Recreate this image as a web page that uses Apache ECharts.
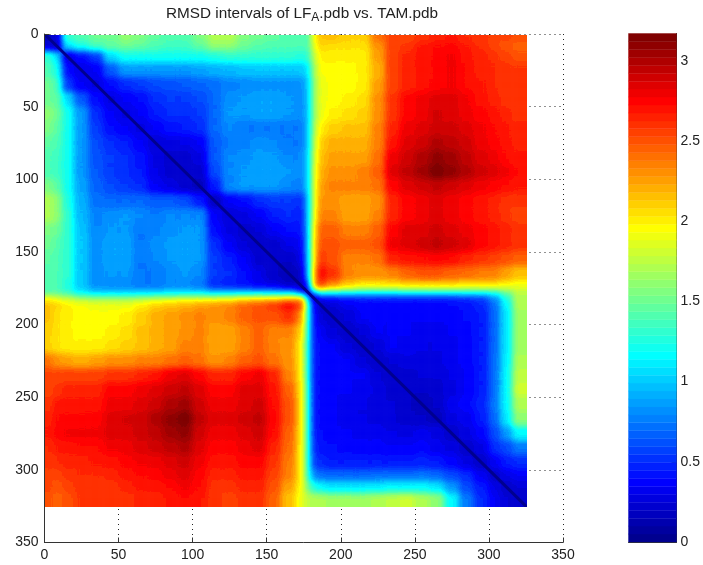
<!DOCTYPE html>
<html><head><meta charset="utf-8">
<style>html,body{margin:0;padding:0;background:#fff}#c{width:703px;height:565px}
#c canvas[data-zr-dom-id="zr_1"]{filter:url(#jetSmooth);clip-path:inset(35px 176.3px 58.3px 45px)}
#c canvas[data-zr-dom-id="zr_2"]{filter:blur(.7px);clip-path:inset(35px 176.3px 58.3px 45px)}
#c canvas[data-zr-dom-id="zr_3"]{filter:blur(.6px)}
</style>
<script src="https://cdn.jsdelivr.net/npm/echarts@6/dist/echarts.min.js"></script></head>
<body><div id="c"></div>
<svg width="0" height="0" style="position:absolute"><filter id="jetSmooth" color-interpolation-filters="sRGB" x="0" y="0" width="100%" height="100%">
<feGaussianBlur stdDeviation="3"/><feComponentTransfer><feFuncR id="fr" type="discrete"/><feFuncG id="fg" type="discrete"/><feFuncB id="fb" type="discrete"/></feComponentTransfer></filter></svg>
<script>
const titleText = 'RMSD intervals of LF{sub|A}{t|.pdb vs. TAM.pdb}';
const axisTicks = [0, 50, 100, 150, 200, 250, 300, 350];
const colorTicks = [0, 0.5, 1, 1.5, 2, 2.5, 3];
const valueMax = 3.17;
const residueEdges = [0.5,6,12,20,30,40,50,60,70,80,90,100,110,120,130,140,150,160,170,176,180,184,190,200,210,220,230,240,250,260,270,280,290,300,308,316,325.5];
const diagonalEnds = [[0.5,0.5],[325.5,325.5]];
// lower triangle of the symmetric RMSD matrix, one row per residue bin
const rmsdRows = [
[.18],
[.25,.18],
[1.3,1.05,.25],
[1.4,1.2,.4,.3],
[1.5,1.35,.55,.35,.28],
[1.5,1.45,1.05,.65,.4,.28],
[1.6,1.5,1.2,.85,.5,.35,.28],
[1.55,1.45,1.2,.85,.55,.4,.35,.28],
[1.45,1.4,1.2,.85,.6,.5,.45,.35,.25],
[1.4,1.35,1.2,.85,.62,.55,.5,.42,.28,.22],
[1.4,1.35,1.2,.85,.65,.55,.5,.45,.3,.22,.2],
[1.55,1.45,1.2,.88,.68,.6,.55,.5,.35,.28,.22,.18],
[1.7,1.6,1.25,.92,.72,.7,.7,.7,.65,.65,.6,.45,.2],
[1.7,1.6,1.3,.95,.78,.82,.85,.8,.75,.8,.8,.8,.35,.25],
[1.55,1.5,1.3,.98,.8,.85,.85,.75,.78,.82,.85,.85,.4,.28,.22],
[1.5,1.42,1.3,1,.82,.88,.88,.75,.82,.86,.88,.85,.5,.35,.25,.2],
[1.45,1.4,1.3,1,.82,.88,.88,.75,.8,.85,.88,.85,.55,.45,.35,.22,.2],
[1.42,1.4,1.3,1,.82,.85,.85,.75,.75,.8,.85,.8,.55,.5,.4,.3,.2,.18],
[1.4,1.4,1.25,1,.82,.8,.8,.75,.75,.8,.8,.75,.5,.45,.42,.35,.3,.2,.18],
[1.4,1.4,1.3,1.1,1,1,1,1,1,1.05,1.05,1.05,1,1,1,1,1,.95,.5,.08],
[1.95,1.85,1.75,1.65,1.6,1.6,1.6,1.65,1.7,1.75,1.8,1.8,1.8,1.85,1.95,2,2,2.1,2.2,.9,.06],
[2.15,2.1,2,1.95,1.9,1.9,1.9,2,2.1,2.15,2.2,2.25,2.3,2.35,2.45,2.5,2.6,2.75,2.55,1.3,.35,.2],
[2.15,2.05,2,1.95,1.95,1.95,2,2.1,2.2,2.25,2.3,2.35,2.3,2.35,2.45,2.5,2.5,2.6,2.3,1.25,.4,.25,.22],
[2.1,2.05,2,1.95,1.95,2,2.05,2.15,2.2,2.25,2.3,2.35,2.25,2.25,2.35,2.45,2.35,2.35,2.1,1.25,.42,.35,.25,.22],
[2.1,2.05,2,2,2,2.05,2.1,2.15,2.2,2.25,2.35,2.35,2.25,2.25,2.35,2.45,2.35,2.3,2,1.2,.45,.38,.35,.25,.22],
[2.4,2.3,2.25,2.2,2.25,2.3,2.3,2.35,2.35,2.4,2.45,2.4,2.3,2.35,2.45,2.5,2.4,2.3,2,1.2,.45,.38,.38,.35,.25,.22],
[2.55,2.55,2.55,2.55,2.55,2.6,2.6,2.65,2.7,2.8,2.85,2.75,2.65,2.65,2.75,2.8,2.65,2.35,2,1.2,.45,.38,.35,.35,.35,.25,.22],
[2.55,2.6,2.65,2.65,2.65,2.75,2.75,2.8,2.85,2.9,2.95,2.85,2.75,2.75,2.85,2.85,2.7,2.45,2.05,1.25,.45,.38,.35,.35,.33,.28,.22,.2],
[2.6,2.7,2.7,2.7,2.7,2.8,2.8,2.85,2.9,3,3.05,2.9,2.8,2.8,2.85,2.9,2.72,2.5,2.05,1.25,.45,.38,.35,.33,.3,.28,.25,.2,.18],
[2.65,2.73,2.73,2.73,2.75,2.85,2.88,2.9,3,3.1,3.17,2.95,2.85,2.85,2.9,2.95,2.75,2.5,2.05,1.25,.45,.38,.35,.33,.3,.28,.25,.22,.2,.18],
[2.68,2.75,2.78,2.78,2.78,2.85,2.85,2.9,2.95,3.05,3.1,2.9,2.8,2.8,2.85,2.9,2.72,2.45,2.05,1.25,.45,.4,.37,.35,.33,.33,.3,.28,.32,.28,.2],
[2.62,2.68,2.7,2.72,2.72,2.78,2.8,2.85,2.9,2.95,3,2.85,2.75,2.75,2.8,2.85,2.65,2.42,2,1.25,.5,.42,.4,.38,.37,.37,.35,.35,.38,.32,.28,.2],
[2.6,2.62,2.65,2.65,2.68,2.7,2.75,2.78,2.8,2.85,2.9,2.8,2.7,2.7,2.75,2.75,2.6,2.38,2,1.25,.55,.5,.45,.45,.45,.45,.45,.45,.47,.45,.37,.28,.2],
[2.55,2.55,2.6,2.62,2.62,2.65,2.7,2.72,2.75,2.8,2.85,2.75,2.65,2.65,2.7,2.7,2.55,2.35,2,1.3,.8,.72,.7,.7,.7,.72,.72,.72,.74,.7,.6,.5,.33,.2],
[2.55,2.5,2.55,2.6,2.6,2.6,2.65,2.68,2.7,2.72,2.78,2.72,2.6,2.6,2.65,2.65,2.5,2.25,1.95,1.5,1.25,1.15,1.1,1.1,1.1,1.12,1.15,1.15,1.15,1.1,.85,.6,.45,.3,.2],
[2.5,2.45,2.5,2.58,2.58,2.58,2.6,2.65,2.65,2.68,2.72,2.68,2.6,2.55,2.6,2.6,2.45,2.15,1.9,1.75,1.72,1.7,1.65,1.65,1.65,1.7,1.75,1.8,1.7,1.6,1.15,.75,.5,.35,.25,.2]
];

const LEVELS = 64;
const ramp = v => Math.max(0, Math.min(1, v));
function jetRGB(k){ const f=(k+1)/LEVELS; return [ramp(Math.min(4*f-1.5,-4*f+4.5)),ramp(Math.min(4*f-.5,-4*f+3.5)),ramp(Math.min(4*f+.5,-4*f+2.5))]; }
const jetTable = Array.from({length:LEVELS},(_,k)=>jetRGB(k));
['fr','fg','fb'].forEach((id,ch)=>document.getElementById(id).setAttribute('tableValues',jetTable.map(c=>c[ch].toFixed(4)).join(' ')));
function jet(t){ const c=jetTable[Math.min(LEVELS-1,Math.max(0,Math.floor(t*LEVELS)))]; return 'rgb('+c.map(v=>Math.round(v*255)).join(',')+')'; }

const cells = [];
rmsdRows.forEach((row,i)=>row.forEach((v,j)=>{
  cells.push([residueEdges[j],residueEdges[j+1],residueEdges[i],residueEdges[i+1],v]);
  if(i!==j) cells.push([residueEdges[i],residueEdges[i+1],residueEdges[j],residueEdges[j+1],v]);
}));
const barCells = [];
for(let k=0;k<LEVELS;k++) barCells.push([0,1,k*valueMax/LEVELS,(k+1)*valueMax/LEVELS,(k+.5)*valueMax/LEVELS]);
const firstEdge = residueEdges[0], lastEdge = residueEdges[residueEdges.length-1];
function heatItem(params,api){
  // values drawn as grey levels; the page's SVG filter smooths them and maps them through the jet table
  const v0=api.value(0),v1=api.value(1),v2=api.value(2),v3=api.value(3);
  const a=api.coord([v0,v2]), b=api.coord([v1,v3]);
  const g=Math.round(255*Math.min(1,api.value(4)/valueMax));
  const pad=14;
  const x0=a[0]-(v0===firstEdge?pad:0), x1=b[0]+(v1===lastEdge?pad:0);
  const y0=a[1]-(v2===firstEdge?pad:0), y1=b[1]+(v3===lastEdge?pad:0);
  const c='rgb('+g+','+g+','+g+')';
  return {type:'rect',shape:{x:x0,y:y0,width:x1-x0,height:y1-y0},style:{fill:c,stroke:c,lineWidth:.6}};
}
function barItem(params,api){
  const a=api.coord([api.value(0),api.value(2)]), b=api.coord([api.value(1),api.value(3)]);
  const c=jet(api.value(4)/valueMax);
  return {type:'rect',shape:{x:a[0],y:b[1],width:b[0]-a[0],height:a[1]-b[1]},style:{fill:c,stroke:c,lineWidth:.4}};
}
const textC = '#222', lineC = '#333';
const font = 'Liberation Sans';
const chart = echarts.init(document.getElementById('c'),null,{renderer:'canvas'});
chart.setOption({
  animation:false,
  backgroundColor:'#fff',
  title:{text:titleText,left:161,top:-1,itemGap:0,
    textStyle:{fontFamily:font,fontSize:15.3,fontWeight:'normal',color:textC,
      rich:{sub:{fontFamily:font,fontSize:12,color:textC,padding:[8,0,0,0]},t:{fontFamily:font,fontSize:15.3,color:textC}}}},
  grid:[{left:44.5,top:34,width:518.5,height:508.5},
        {left:628.5,top:33.5,width:48,height:508.5}],
  xAxis:[
    {type:'value',gridIndex:0,min:0,max:350,interval:50,position:'bottom',
     axisLine:{onZero:false,lineStyle:{color:lineC}},axisTick:{inside:true,length:5,lineStyle:{color:lineC}},
     axisLabel:{color:textC,fontFamily:font,fontSize:14,margin:6},
     splitLine:{show:true,lineStyle:{type:[1,4],color:'#222'}}},
    {type:'value',gridIndex:1,min:0,max:1,position:'bottom',axisTick:{show:false},axisLabel:{show:false},splitLine:{show:false},
     axisLine:{onZero:false,lineStyle:{color:lineC}}}
  ],
  yAxis:[
    {type:'value',gridIndex:0,min:0,max:350,interval:50,inverse:true,position:'left',
     axisLine:{onZero:false,lineStyle:{color:lineC}},axisTick:{inside:true,length:5,lineStyle:{color:lineC}},
     axisLabel:{color:textC,fontFamily:font,fontSize:14,margin:6},
     splitLine:{show:true,lineStyle:{type:[1,4],color:'#222'}}},
    {type:'value',gridIndex:1,min:0,max:valueMax,interval:.5,position:'right',
     axisLine:{onZero:false,lineStyle:{color:lineC}},axisTick:{inside:true,length:5,lineStyle:{color:lineC}},
     axisLabel:{color:textC,fontFamily:font,fontSize:14,margin:4,showMaxLabel:false,
       formatter:v=>colorTicks.includes(v)?String(v):''},
     splitLine:{show:false}}
  ],
  series:[
    {type:'custom',xAxisIndex:0,yAxisIndex:0,coordinateSystem:'cartesian2d',data:cells,renderItem:heatItem,silent:true,zlevel:1,clip:false},
    {type:'line',xAxisIndex:0,yAxisIndex:0,data:diagonalEnds,showSymbol:false,silent:true,zlevel:2,lineStyle:{color:'#00008f',width:3}},
    {type:'custom',xAxisIndex:1,yAxisIndex:1,coordinateSystem:'cartesian2d',data:barCells,renderItem:barItem,silent:true,zlevel:3}
  ]
});
</script></body></html>
